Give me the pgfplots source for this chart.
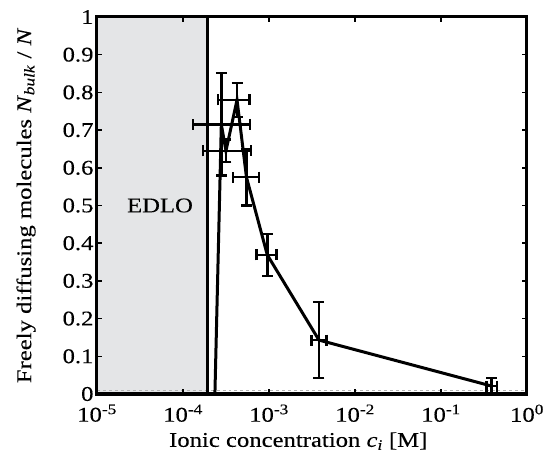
\documentclass[border=0pt]{standalone}
\usepackage{fontspec}
\setmainfont{Liberation Serif}[FakeStretch=1.18, FakeBold=0.2]
\usepackage{pgfplots}
\pgfplotsset{compat=1.18}
\definecolor{edlo}{RGB}{228,229,231}
\pgfplotstableread{
x        y      xm       xp       ym     yp
2.79e-4  0.715  1.48e-4  3.21e-4  0.135  0.136
3.16e-4  0.645  1.45e-4  3.02e-4  0.030  0.030
4.25e-4  0.780  1.70e-4  1.72e-4  0.045  0.045
5.47e-4  0.575  1.66e-4  2.18e-4  0.075  0.075
9.55e-4  0.369  2.35e-4  2.75e-4  0.056  0.055
3.81e-3  0.143  0.67e-3  0.87e-3  0.100  0.101
0.389    0.021  0.049    0.056    0.021  0.022
}\errdata
\begin{document}
\begin{tikzpicture}
\begin{axis}[
  scale only axis, width=430bp, height=377bp,
  xmode=log, log basis x=10,
  xmin=1e-5, xmax=1, ymin=0, ymax=1,
  xtick={1e-5,1e-4,1e-3,1e-2,1e-1,1},
  xticklabels={10\textsuperscript{-5},10\textsuperscript{-4},10\textsuperscript{-3},10\textsuperscript{-2},10\textsuperscript{-1},10\textsuperscript{0}},
  xminorticks=false,
  ytick={0,0.1,0.2,0.3,0.4,0.5,0.6,0.7,0.8,0.9,1},
  yticklabels={0,0.1,0.2,0.3,0.4,0.5,0.6,0.7,0.8,0.9,1},
  tick align=inside, major tick length=5bp,
  axis line style={line width=3bp},
  tick style={line width=1.5bp, black},
  axis on top,
  ticklabel style={font=\fontsize{21}{25}\selectfont},
  xticklabel style={yshift=-7bp},
  xlabel={Ionic concentration \textit{c}\textsubscript{\textit{i}} [M]},
  ylabel={Freely diffusing molecules \textit{N}\textsubscript{\textit{bulk}} / \textit{N}},
  every axis x label/.style={at={(axis description cs:0.468,-0.125)}, anchor=center, font=\fontsize{21}{25}\selectfont},
  every axis y label/.style={at={(axis description cs:-0.165,0.5)}, anchor=center, rotate=90, font=\fontsize{21}{25}\selectfont},
]
\addplot[fill=edlo, draw=none] coordinates {(1e-5,0) (1.95e-4,0) (1.95e-4,1) (1e-5,1)} -- cycle;
\addplot[gray!60, dashed, line width=1bp] coordinates {(1e-5,0.008) (1,0.008)};
\addplot[black, line width=3bp] coordinates {(1.95e-4,0) (1.95e-4,1)};
\addplot[black, line width=3bp, mark=none] coordinates {
  (2.35e-4,0) (2.79e-4,0.715) (3.16e-4,0.645) (4.25e-4,0.780) (5.47e-4,0.575)
  (9.55e-4,0.369) (3.81e-3,0.143) (0.389,0.021)};
\addplot[black, mark=none, draw=none,
  error bars/.cd, x dir=both, y dir=both, x explicit, y explicit,
  error bar style={line width=2.5bp, black},
  error mark options={black, line width=2.5bp, mark size=5.5bp, rotate=90}]
  table[x=x, y=y, x error minus=xm, x error plus=xp, y error minus=ym, y error plus=yp] {\errdata};
\node[font=\fontsize{21}{25}\selectfont] at (axis cs:5.4e-5,0.5) {EDLO};
\end{axis}
\pgfresetboundingbox
\path ([shift={(-97bp,-69bp)}]current axis.south west) rectangle ([shift={(26bp,17bp)}]current axis.north east);
\end{tikzpicture}
\end{document}
